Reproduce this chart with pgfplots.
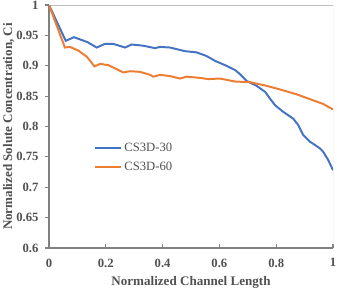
\documentclass[border=0pt]{standalone}
\usepackage{pgfplots}
\pgfplotsset{compat=1.18}
\usepackage{fontspec}
\setmainfont{Liberation Serif}
\definecolor{xlblue}{HTML}{4472C4}
\definecolor{xlorange}{HTML}{ED7D31}
\definecolor{axgray}{HTML}{808080}
\definecolor{txtgray}{HTML}{505050}
\begin{document}
\begin{tikzpicture}
\begin{axis}[
  scale only axis,
  width=7.1cm, height=6.075cm,
  xmin=0, xmax=1, ymin=0.6, ymax=1,
  xtick={0,0.2,0.4,0.6,0.8,1},
  ytick={0.6,0.65,0.7,0.75,0.8,0.85,0.9,0.95,1},
  xticklabels={0,0.2,0.4,0.6,0.8,1},
  yticklabels={0.6,0.65,0.7,0.75,0.8,0.85,0.9,0.95,1},
  axis lines=left,
  axis line style={draw=axgray, line width=1.2pt, -},
  tick style={draw=axgray, line width=0.8pt},
  major tick length=3pt,
  xtick align=inside,
  ytick align=outside,
  ticklabel style={font=\bfseries\fontsize{9}{10}\selectfont, text=txtgray},
  xticklabel style={yshift=-4pt},
  yticklabel style={xshift=-1pt},
  xlabel={\bfseries Normalized Channel Length},
  ylabel={\bfseries Normalized Solute Concentration, Ci},
  label style={font=\bfseries\fontsize{9.3}{10}\selectfont, text=txtgray},
  xlabel style={at={(axis description cs:0.5,-0.14)}, anchor=center},
  ylabel style={at={(axis description cs:-0.163,0.5)}, anchor=north, inner sep=0pt},
  legend style={draw=none, fill=none, at={(rel axis cs:0.144,0.457)}, anchor=north west,
    font=\fontsize{9}{10}\selectfont, text=txtgray, row sep=2pt},
  legend cell align=left,
  legend image code/.code={\draw[#1] (0cm,0cm) -- (0.63cm,0cm);},
]
\coordinate (bl) at (rel axis cs:0,0);
\coordinate (tr) at (rel axis cs:1,1);
\draw[gray!50, line width=0.6pt] (rel axis cs:0,1) -- (rel axis cs:1,1) -- (rel axis cs:1,0);
\addplot[xlblue, line width=1.4pt] coordinates {
(0,1) (0.059,0.941) (0.088,0.947) (0.135,0.939) (0.168,0.930) (0.197,0.936)
(0.226,0.936) (0.268,0.930) (0.291,0.935) (0.332,0.933) (0.373,0.929) (0.391,0.931)
(0.426,0.930) (0.479,0.924) (0.520,0.922) (0.555,0.916) (0.585,0.908) (0.620,0.901)
(0.655,0.893) (0.673,0.886) (0.696,0.875) (0.731,0.867) (0.761,0.857) (0.778,0.846)
(0.796,0.835) (0.825,0.824) (0.860,0.813) (0.878,0.802) (0.895,0.786) (0.919,0.775)
(0.954,0.764) (0.966,0.758) (0.983,0.745) (1.0,0.728)
};
\addlegendentry{CS3D-30}
\addplot[xlorange, line width=1.4pt] coordinates {
(0,1) (0.056,0.930) (0.074,0.931) (0.103,0.925) (0.133,0.915) (0.160,0.899)
(0.180,0.903) (0.209,0.901) (0.262,0.889) (0.285,0.891) (0.320,0.890) (0.356,0.885)
(0.367,0.882) (0.391,0.885) (0.426,0.883) (0.461,0.879) (0.485,0.882) (0.532,0.880)
(0.561,0.878) (0.602,0.879) (0.655,0.874) (0.708,0.873) (0.766,0.867) (0.813,0.861)
(0.872,0.853) (0.919,0.845) (0.966,0.837) (1.0,0.828)
};
\addlegendentry{CS3D-60}
\end{axis}
\pgfresetboundingbox
\path ([shift={(-1.225cm,-1.05cm)}]bl) rectangle ([shift={(0.1cm,0.125cm)}]tr);
\end{tikzpicture}
\end{document}
